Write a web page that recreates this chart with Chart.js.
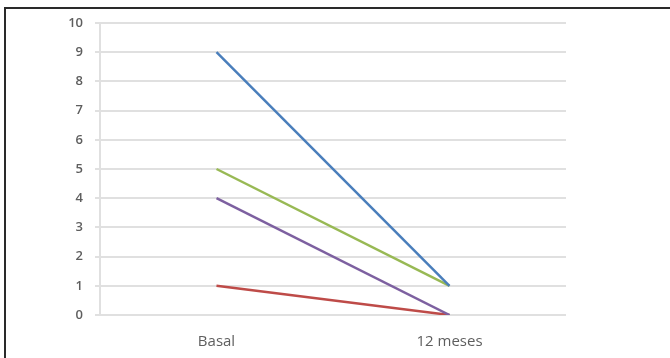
<!DOCTYPE html>
<html>
<head>
<meta charset="utf-8">
<script src="https://cdn.jsdelivr.net/npm/chart.js@4/dist/chart.umd.min.js"></script>
<style>
  html, body { margin: 0; padding: 0; background: #fff; }
  #wrap { position: relative; width: 670px; height: 358px; overflow: hidden; }
  #frame { position: absolute; left: 4px; top: 7px; right: -10px; bottom: -10px;
           border-left: 2px solid #2a2a2a; border-top: 2px solid #2a2a2a; }
  canvas { position: absolute; left: 0; top: 0; }
</style>
</head>
<body>
<div id="wrap">
  <div id="frame"></div>
  <canvas id="c" width="670" height="358"></canvas>
</div>
<script>
// Time points on the horizontal axis
const categories = ['Basal', '12 meses'];
// One line per patient, value at each time point
const serieAzul    = [9, 1];
const serieVerde   = [5, 1];
const serieMorada  = [4, 0];
const serieRoja    = [1, 0];
// Vertical axis ticks
const yTicks = [0, 1, 2, 3, 4, 5, 6, 7, 8, 9, 10];

const mk = (data, color) => ({
  data, borderColor: color, backgroundColor: color,
  borderWidth: 2.5, pointRadius: 0, tension: 0, fill: false
});

new Chart(document.getElementById('c'), {
  type: 'line',
  data: {
    labels: categories,
    datasets: [
      mk(serieAzul, '#4a7ebb'),
      mk(serieVerde, '#98b954'),
      mk(serieMorada, '#7d60a0'),
      mk(serieRoja, '#be4b48')
    ]
  },
  options: {
    responsive: false,
    animation: false,
    layout: { padding: { left: 0, right: 104, top: 23, bottom: 0 } },
    plugins: { legend: { display: false }, tooltip: { enabled: false } },
    scales: {
      x: {
        offset: true,
        grid: { display: false, drawTicks: false },
        border: { display: false },
        ticks: { padding: 18, color: '#5e5e5e', font: { family: 'Open Sans', size: 15 } },
        afterFit: (a) => { a.height = 43; }
      },
      y: {
        min: 0, max: 10,
        afterBuildTicks: (a) => { a.ticks = yTicks.map(v => ({ value: v })); },
        grid: { color: '#e0e0e0', lineWidth: 2, tickLength: 5, drawTicks: true },
        border: { display: true, color: '#e0e0e0', width: 2 },
        ticks: { padding: 12, color: '#5e5e5e', font: { family: 'Open Sans', size: 13, weight: '600' } },
        afterFit: (a) => { a.width = 100; }
      }
    }
  }
});
</script>
</body>
</html>
